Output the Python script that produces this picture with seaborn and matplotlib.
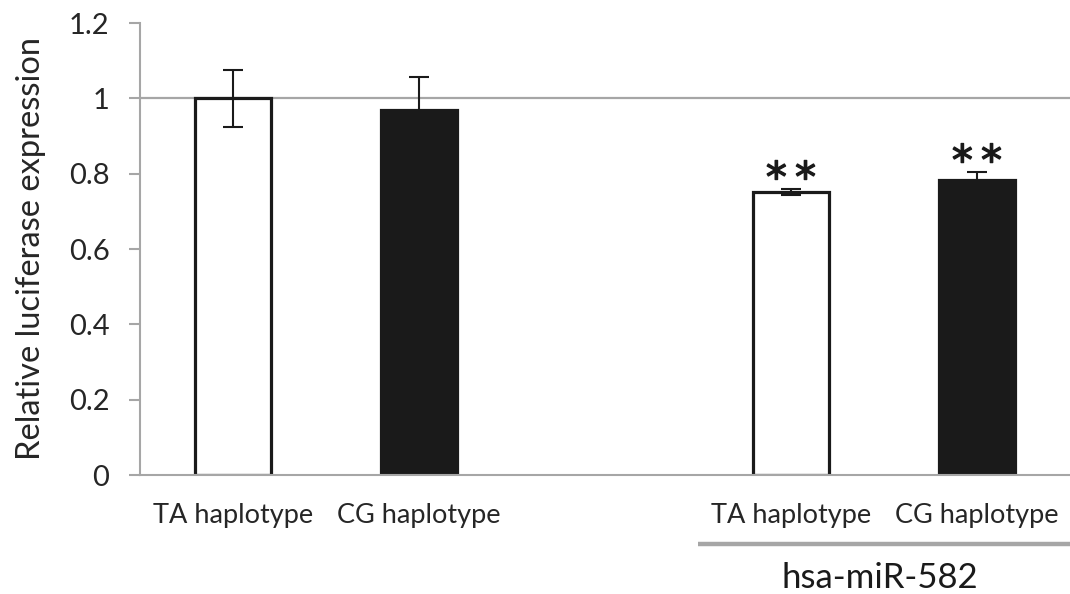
import matplotlib
matplotlib.use("Agg")
import matplotlib.pyplot as plt
import matplotlib.transforms as mtransforms
import matplotlib.patheffects as pe
import seaborn as sns
import pandas as pd
import numpy as np

# ---- data ----
slots = ["TA_ctrl", "CG_ctrl", "gap", "TA_mir", "CG_mir"]
slot_labels = ["TA haplotype", "CG haplotype", "", "TA haplotype", "CG haplotype"]
bar_slots = ["TA_ctrl", "CG_ctrl", "TA_mir", "CG_mir"]
values = [1.00, 0.968, 0.752, 0.784]
errors = [0.075, 0.088, 0.008, 0.021]
haplotype = ["TA", "CG", "TA", "CG"]
stars = ["", "", "**", "**"]
group_label = "hsa-miR-582"
y_ticks = [0, 0.2, 0.4, 0.6, 0.8, 1.0, 1.2]
y_tick_labels = ["0", "0.2", "0.4", "0.6", "0.8", "1", "1.2"]

df = pd.DataFrame({"slot": bar_slots, "value": values, "hap": haplotype})

sns.set_theme(style="white")
plt.rcParams["font.family"] = ["Lato", "DejaVu Sans"]

fig = plt.figure(figsize=(10.7, 5.94), dpi=100)
ax = fig.add_axes([140 / 1070, 1 - 475 / 594, 1 - 140 / 1070, (475 - 23) / 594])

palette = {"TA": "white", "CG": "#1a1a1a"}
sns.barplot(data=df, x="slot", y="value", hue="hap", order=slots, palette=palette,
            dodge=False, width=0.41, edgecolor="#1a1a1a", linewidth=2.3,
            legend=False, ax=ax)

pos = [slots.index(s) for s in bar_slots]
ax.errorbar(pos, values, yerr=errors, fmt="none", ecolor="#1a1a1a",
            elinewidth=1.5, capsize=7, capthick=1.5, zorder=5)

for p, v, e, s in zip(pos, values, errors, stars):
    if s:
        ax.text(p, v + e - 0.031, "\u2009".join(s), ha="center", va="bottom", fontsize=30,
                color="#1a1a1a", fontfamily="DejaVu Sans",
                path_effects=[pe.withStroke(linewidth=1.0, foreground="#1a1a1a")])

# reference line at 1
ax.axhline(1.0, color="#a6a6a6", lw=1.6, zorder=0)

ax.set_xlim(-0.5, len(slots) - 0.5)
ax.set_ylim(0, 1.2)
ax.set_yticks(y_ticks)
ax.set_yticklabels(y_tick_labels, fontsize=21, color="#262626")
ax.set_xticks(range(len(slots)))
ax.set_xticklabels(slot_labels, fontsize=19.5, color="#262626")
ax.set_xticks(np.arange(-0.5, len(slots) - 0.4, 1.0), minor=True)
ax.tick_params(axis="x", which="major", length=0, pad=20)
ax.tick_params(axis="x", which="minor", length=8, width=1.5, color="#a6a6a6", direction="out")
ax.tick_params(axis="y", length=8, width=1.5, color="#a6a6a6", direction="out", left=True, pad=14)
ax.set_xlabel("")
ax.set_ylabel("Relative luciferase expression", fontsize=23.5, color="#262626", labelpad=16)

for sp in ["top", "right"]:
    ax.spines[sp].set_visible(False)
for sp in ["left", "bottom"]:
    ax.spines[sp].set_color("#a6a6a6")
    ax.spines[sp].set_linewidth(1.5)

# group bracket
trans = mtransforms.blended_transform_factory(ax.transData, ax.transAxes)
g0, g1 = slots.index("TA_mir") - 0.5, slots.index("CG_mir") + 0.5
ax.plot([g0, g1], [-0.153, -0.153], transform=trans, color="#a6a6a6", lw=3.2,
        clip_on=False, solid_capstyle="butt")
ax.text((g0 + g1) / 2 - 0.02, -0.228, group_label, transform=trans, ha="center",
        va="center", fontsize=25, color="#1a1a1a")

fig.savefig("out.png", dpi=100)
